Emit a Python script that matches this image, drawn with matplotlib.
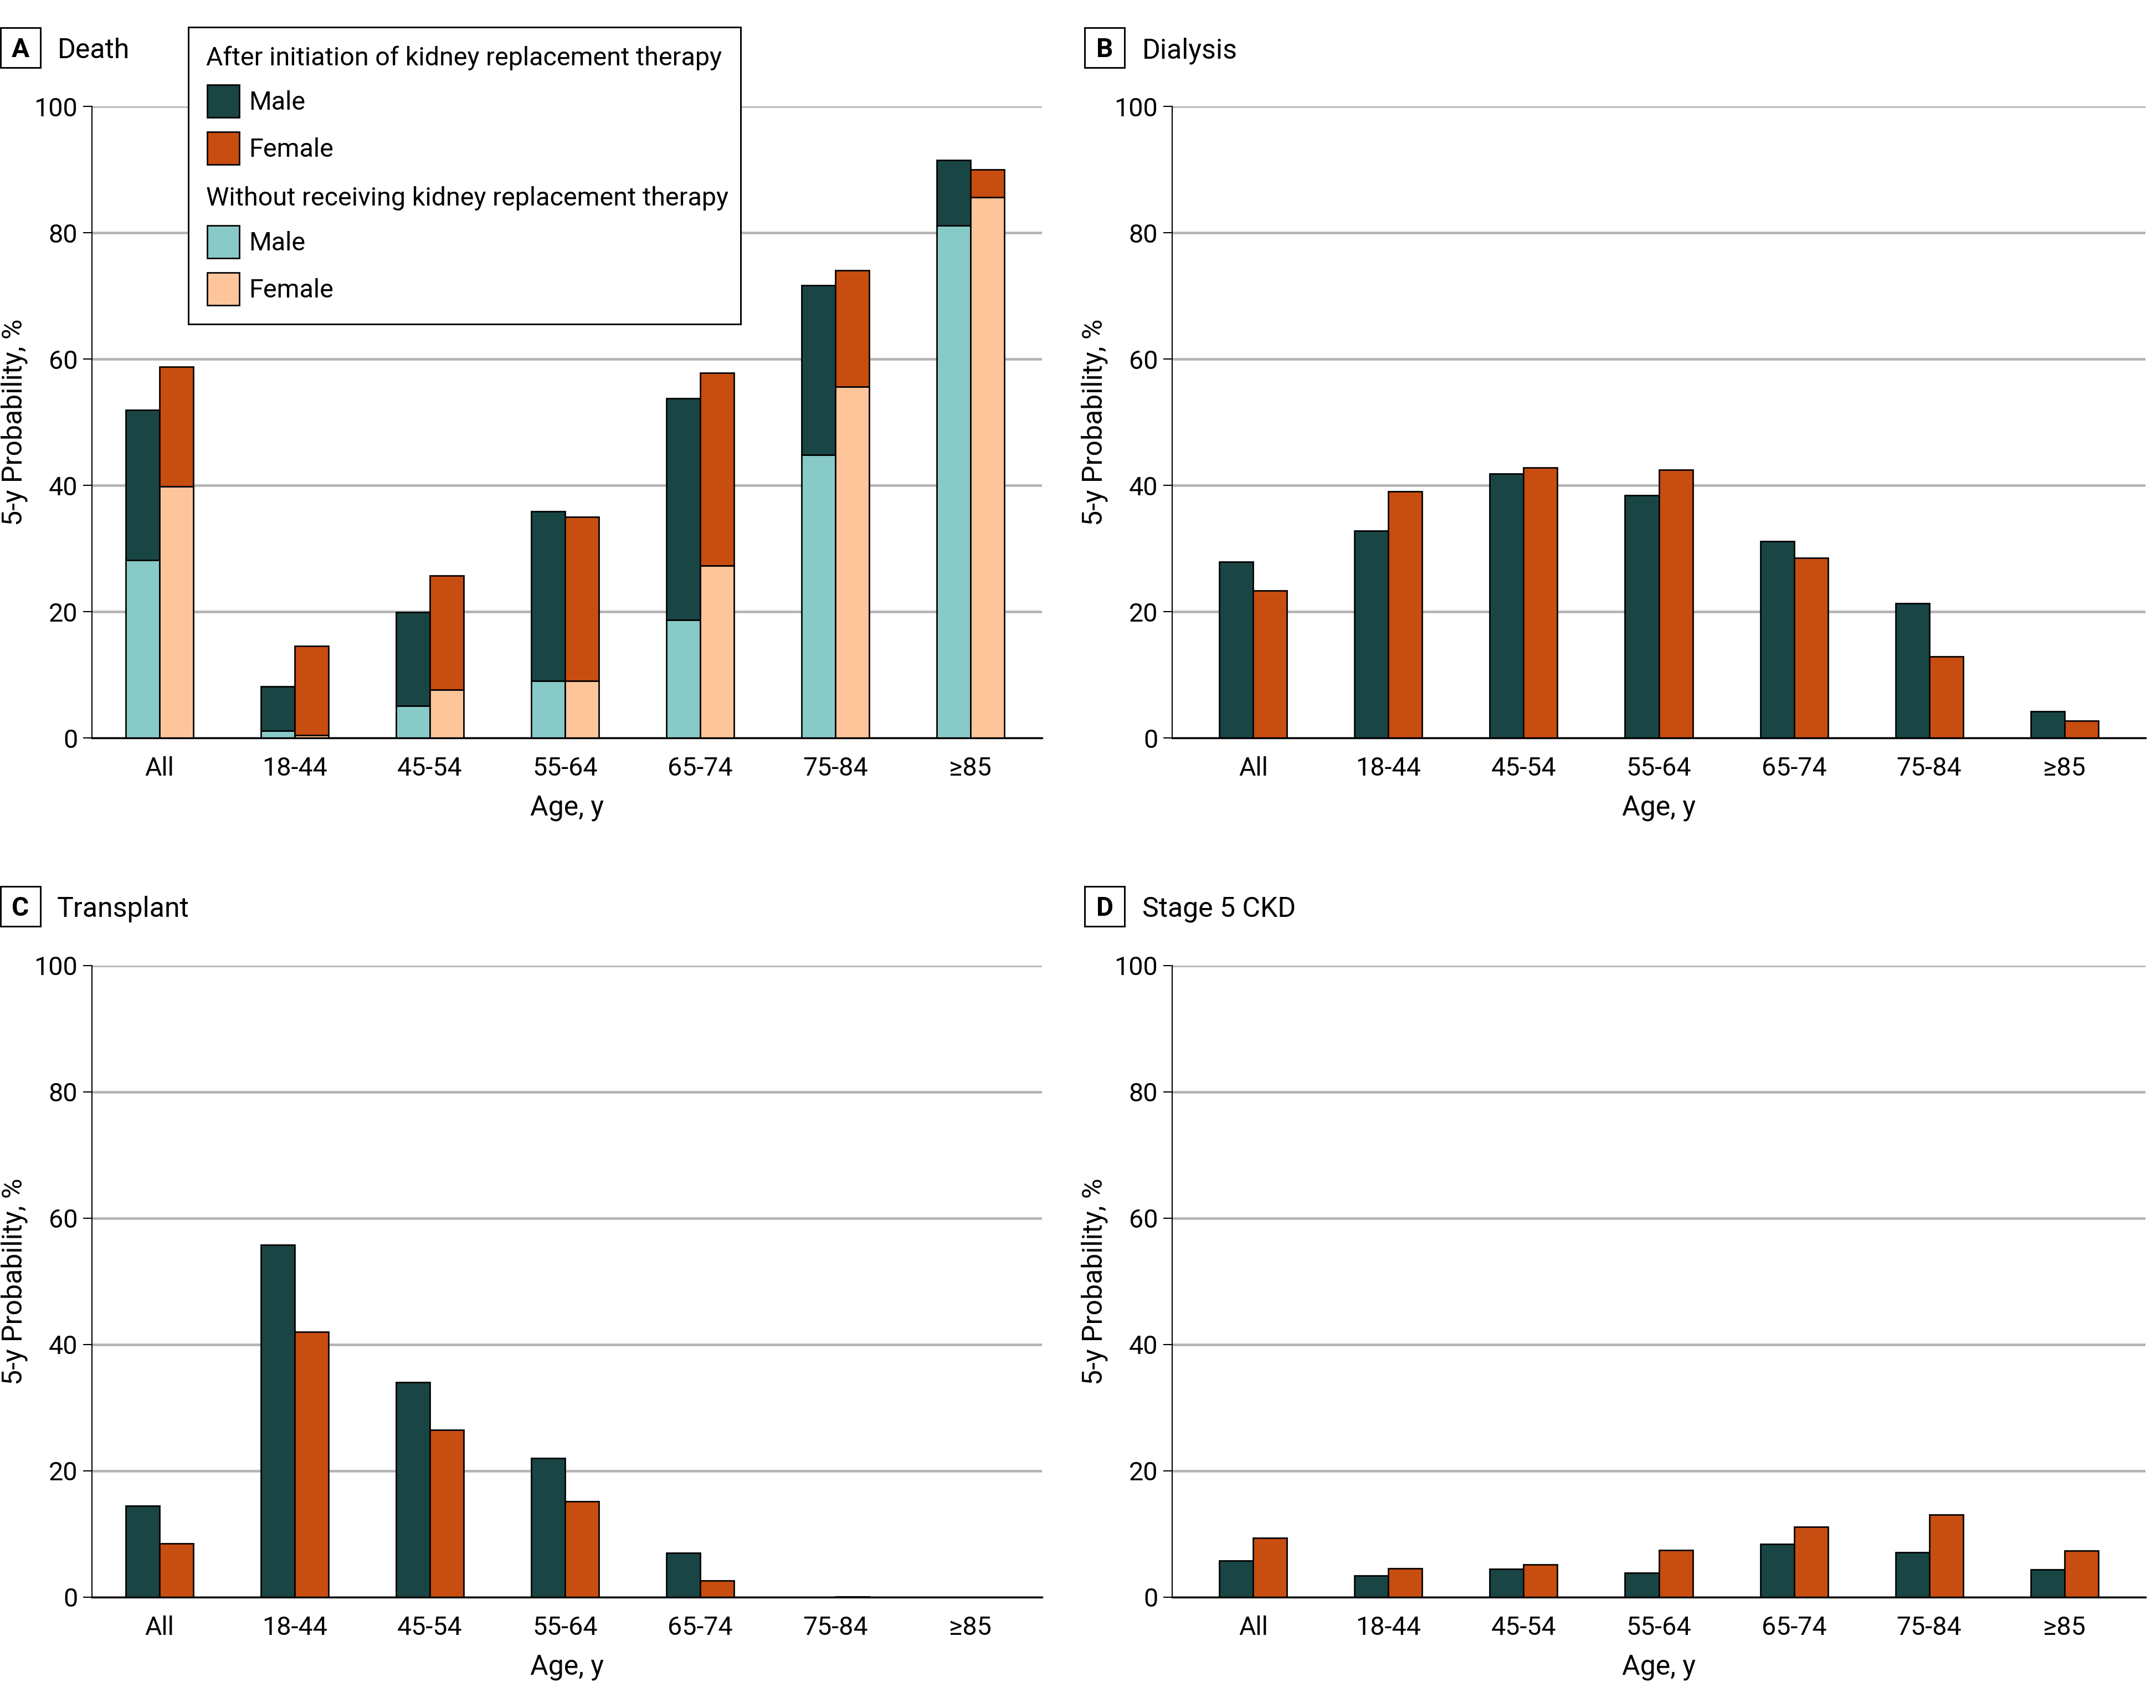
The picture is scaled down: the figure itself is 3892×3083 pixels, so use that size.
import matplotlib
matplotlib.use("Agg")
import matplotlib.pyplot as plt
from matplotlib.patches import Rectangle
from matplotlib.transforms import blended_transform_factory
import numpy as np

plt.rcParams['font.family'] = ['Roboto', 'DejaVu Sans']

# ---------------- data ----------------
age_groups = ["All", "18-44", "45-54", "55-64", "65-74", "75-84", "\u226585"]

# Panel A: Death (stacked: without KRT at bottom, after KRT initiation on top)
death_male_without = [28.2, 1.1, 5.1, 9.0, 18.7, 44.8, 81.1]
death_male_after = [23.7, 7.1, 14.8, 26.9, 35.1, 26.9, 10.4]
death_female_without = [39.8, 0.45, 7.6, 9.0, 27.3, 55.6, 85.6]
death_female_after = [19.0, 14.15, 18.1, 26.0, 30.5, 18.4, 4.4]

# Panel B: Dialysis
dialysis_male = [27.9, 32.8, 41.8, 38.4, 31.1, 21.3, 4.2]
dialysis_female = [23.3, 39.0, 42.8, 42.5, 28.5, 12.9, 2.7]

# Panel C: Transplant
transplant_male = [14.5, 55.8, 34.0, 22.0, 7.0, 0.0, 0.0]
transplant_female = [8.5, 42.0, 26.5, 15.2, 2.6, 0.1, 0.0]

# Panel D: Stage 5 CKD
ckd_male = [5.8, 3.4, 4.5, 3.9, 8.4, 7.1, 4.4]
ckd_female = [9.4, 4.6, 5.2, 7.5, 11.1, 13.1, 7.4]

yticks = [0, 20, 40, 60, 80, 100]

# ---------------- style ----------------
C_MALE = "#1A4545"
C_FEMALE = "#C84D10"
C_MALE_L = "#88CAC8"
C_FEMALE_L = "#FEC59B"
GRID = "#B3B3B3"

W, H = 3892, 3083
fig = plt.figure(figsize=(W / 300, H / 300), dpi=300)


def fx(px):
    return px / W


def fy(py):
    return 1 - py / H


ax_h = 1140 / H
axA = fig.add_axes([fx(166), fy(1332), 1715 / W, ax_h])
axB = fig.add_axes([fx(2116), fy(1332), 1757 / W, ax_h])
axC = fig.add_axes([fx(166), fy(2883), 1715 / W, ax_h])
axD = fig.add_axes([fx(2116), fy(2883), 1757 / W, ax_h])

x = np.arange(len(age_groups))
bw = 0.25
edge = dict(edgecolor="black", linewidth=0.65)


def style(ax, xlim, label_px):
    ax.set_xlim(*xlim)
    ax.set_ylim(0, 100)
    ax.set_yticks(yticks)
    ax.set_xticks(x)
    ax.set_xticklabels(age_groups)
    ax.set_axisbelow(True)
    ax.yaxis.grid(True, color=GRID, linewidth=1.1)
    for s in ["top", "right"]:
        ax.spines[s].set_visible(False)
    ax.spines["left"].set_linewidth(0.5)
    ax.spines["bottom"].set_linewidth(0.8)
    ax.tick_params(axis="x", length=0, pad=8, labelsize=11.2)
    ax.tick_params(axis="y", length=3.8, width=0.5, pad=2.4, labelsize=11.2)
    ax.set_xlabel("Age, y", fontsize=12, labelpad=6)
    ax.set_ylabel("5-y Probability, %", fontsize=12)
    tr = blended_transform_factory(fig.transFigure, ax.transAxes)
    ax.yaxis.set_label_coords(fx(label_px), 0.5, transform=tr)


# Panel A stacked
axA.bar(x - bw / 2, death_male_without, bw, color=C_MALE_L, **edge)
axA.bar(x - bw / 2, death_male_after, bw, bottom=death_male_without, color=C_MALE, **edge)
axA.bar(x + bw / 2, death_female_without, bw, color=C_FEMALE_L, **edge)
axA.bar(x + bw / 2, death_female_after, bw, bottom=death_female_without, color=C_FEMALE, **edge)
style(axA, (-0.5, 6.53), 50)

for ax, m, f, xl, lp in [(axB, dialysis_male, dialysis_female, (-0.6, 6.6), 2000),
                         (axC, transplant_male, transplant_female, (-0.5, 6.53), 50),
                         (axD, ckd_male, ckd_female, (-0.6, 6.6), 2000)]:
    ax.bar(x - bw / 2, m, bw, color=C_MALE, **edge)
    ax.bar(x + bw / 2, f, bw, color=C_FEMALE, **edge)
    style(ax, xl, lp)

# Panel labels
for letter, title, bx, by, tx in [("A", "Death", 0, 50, 104),
                                  ("B", "Dialysis", 1957, 50, 2062),
                                  ("C", "Transplant", 0, 1600, 103),
                                  ("D", "Stage 5 CKD", 1957, 1600, 2062)]:
    box = Rectangle((fx(bx + 1), fy(by + 72)), 72 / W, 72 / H, transform=fig.transFigure,
                    facecolor="white", edgecolor="black", linewidth=0.7)
    fig.add_artist(box)
    fig.text(fx(bx + 37), fy(by + 53), letter, fontsize=11.5, fontweight="bold",
             ha="center", va="baseline")
    fig.text(fx(tx), fy(by + 55), title, fontsize=12, ha="left", va="baseline")

# Legend (figure-level, overlapping panel A)
leg_box = Rectangle((fx(340), fy(585)), 997 / W, 536 / H, transform=fig.transFigure,
                    facecolor="white", edgecolor="black", linewidth=0.7, zorder=5)
fig.add_artist(leg_box)
legend_rows = [
    ("header", "After initiation of kidney replacement therapy", None, 118),
    ("item", "Male", C_MALE, 153),
    ("item", "Female", C_FEMALE, 238),
    ("header", "Without receiving kidney replacement therapy", None, 371),
    ("item", "Male", C_MALE_L, 407),
    ("item", "Female", C_FEMALE_L, 492),
]
for kind, label, col, py in legend_rows:
    if kind == "header":
        fig.text(fx(372), fy(py), label, fontsize=11.2, ha="left", va="baseline", zorder=6)
    else:
        r = Rectangle((fx(374), fy(py + 59)), 58 / W, 59 / H, transform=fig.transFigure,
                      facecolor=col, edgecolor="black", linewidth=0.65, zorder=6)
        fig.add_artist(r)
        fig.text(fx(449), fy(py + 45), label, fontsize=11.2, ha="left", va="baseline", zorder=6)

fig.savefig("out.png", dpi=300)
